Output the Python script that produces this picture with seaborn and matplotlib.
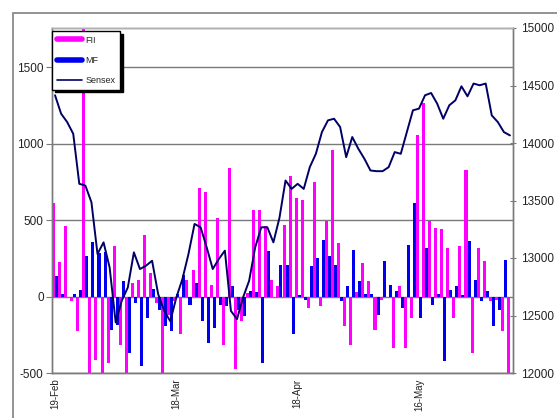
import numpy as np
import pandas as pd
import matplotlib
matplotlib.use("Agg")
import matplotlib.pyplot as plt
import seaborn as sns
from matplotlib.lines import Line2D
from matplotlib.patches import Rectangle

# ---- data ----
fii = [613, 225, 464, -30, -227, 1850, -560, -412, -540, -434,
       334, -314, -540, 89, 111, 405, 155, -40, -560, -120,
       -30, -248, 111, 177, 711, 682, 78, 514, -314, 841,
       -477, -161, 24, 569, 569, 460, 111, 68, 471, 787,
       645, 634, -74, 750, -63, 493, 961, 351, -194, -314,
       30, 220, 100, -216, -20, 0, -336, 68, -336, -140,
       1059, 1267, 493, 449, 443, 318, -140, 329, 830, -368,
       318, 231, -30, -20, -227, -560]
mf = [133, 20, 0, 15, 46, 268, 355, 285, 290, -216,
      -183, 100, -368, -41, -455, -140, 50, -85, -194, -227,
      20, 144, -52, 89, -161, -303, -205, -52, -63, 68,
      -85, -129, 35, 30, -434, 296, 0, 209, 209, -248,
      10, -20, 198, 253, 373, 264, 209, -30, 68, 307,
      100, 20, 15, -118, 231, 78, 35, -74, 340, 613,
      -140, 318, -52, 20, -423, 46, 68, 10, 362, 111,
      -30, 35, -194, -85, 242, 0]
sensex = [14415, 14255, 14182, 14080, 13645, 13630, 13485, 13035, 13136, 12918,
          12439, 12628, 12744, 13049, 12904, 12933, 12976, 12686, 12540, 12450,
          12657, 12817, 13035, 13296, 13267, 13093, 12904, 12991, 13064, 12540,
          12468, 12657, 12802, 13093, 13267, 13267, 13136, 13350, 13674, 13601,
          13645, 13601, 13790, 13906, 14095, 14197, 14211, 14139, 13877, 14052,
          13950, 13863, 13761, 13755, 13755, 13790, 13921, 13906, 14095, 14284,
          14299, 14415, 14435, 14342, 14211, 14328, 14371, 14493, 14406, 14517,
          14502, 14517, 14240, 14182, 14095, 14066]
tick_labels = ["19-Feb", "18-Mar", "18-Apr", "16-May"]
tick_step = 20
series_names = ["FII", "MF"]
line_name = "Sensex"
left_ticks = [-500, 0, 500, 1000, 1500]
right_ticks = [12000, 12500, 13000, 13500, 14000, 14500, 15000]

# ---- style ----
sns.set_style("white")
plt.rcParams['font.family'] = ['Liberation Sans', 'DejaVu Sans']

n = len(fii)
days = list(range(n))
df = pd.DataFrame({
    "day": days * 2,
    "value": fii + mf,
    "series": [series_names[0]] * n + [series_names[1]] * n,
})

colors = {"FII": "#ff00ff", "MF": "#0000ee"}
line_color = "#000066"
grid_color = "#7a7a7a"

W, H = 557, 418
fig = plt.figure(figsize=(W / 100, H / 100), dpi=100)
fig.patch.set_facecolor("white")
ax = fig.add_axes([52 / W, 1 - 373 / H, (513 - 52) / W, (373 - 28) / H])

sns.barplot(data=df, x="day", y="value", hue="series", order=days,
            hue_order=series_names, palette=colors, width=1.0,
            saturation=1, errorbar=None, linewidth=0, legend=False, ax=ax)

ax.set_ylim(-500, 1758)
ax.set_yticks(left_ticks)
ax.set_yticklabels([str(t) for t in left_ticks])
ax.set_axisbelow(True)
ax.yaxis.grid(True, color=grid_color, lw=1.0)
ax.xaxis.grid(False)
ax.set_xlabel("")
ax.set_ylabel("")

ax2 = ax.twinx()
sns.lineplot(x=days, y=sensex, ax=ax2, color=line_color, lw=1.4)
ax2.set_ylim(12000, 15000)
ax2.set_yticks(right_ticks)
ax2.set_yticklabels([str(t) for t in right_ticks])
ax2.set_ylabel("")
ax.set_xlim(-0.5, n - 0.5)
ax2.set_xlim(-0.5, n - 0.5)

tick_pos = list(range(0, n, tick_step))[:len(tick_labels)]
ax.set_xticks(tick_pos)
ax.set_xticklabels(tick_labels, rotation=90, fontsize=7, color="#222222")
ax.tick_params(axis="x", length=0, pad=4)
ax.tick_params(axis="y", direction="out", length=4, width=0.8, color=grid_color,
               labelsize=8.5, labelcolor="#222222", pad=2)
ax2.tick_params(axis="y", direction="inout", length=5, width=0.8, color=grid_color,
                labelsize=8.5, labelcolor="#222222", pad=3)

for a in (ax, ax2):
    for s in a.spines.values():
        s.set_color(grid_color)
        s.set_linewidth(1)
ax2.spines["top"].set_color("#b0b0b0")

# legend
handles = [Line2D([0], [0], color=colors["FII"], lw=4),
           Line2D([0], [0], color=colors["MF"], lw=4),
           Line2D([0], [0], color=line_color, lw=1.2)]
leg = ax2.legend(handles, series_names + [line_name], loc="upper left",
                 bbox_to_anchor=(52 / W, 1 - 31 / H), bbox_transform=fig.transFigure,
                 borderaxespad=0, fontsize=6.5, frameon=True, fancybox=False,
                 shadow={"color": "black", "alpha": 1}, edgecolor="black",
                 handlelength=2.8, labelspacing=1.25, borderpad=0.5, handletextpad=0.4)
leg.get_frame().set_linewidth(1)
leg.get_frame().set_alpha(1)

# outer chart border
fig.add_artist(Rectangle((13 / W, -0.05), 1.2, 1 - 13 / H + 0.05,
                         transform=fig.transFigure, fill=False,
                         edgecolor="#808080", lw=1.2))

fig.savefig("out.png", dpi=100)
